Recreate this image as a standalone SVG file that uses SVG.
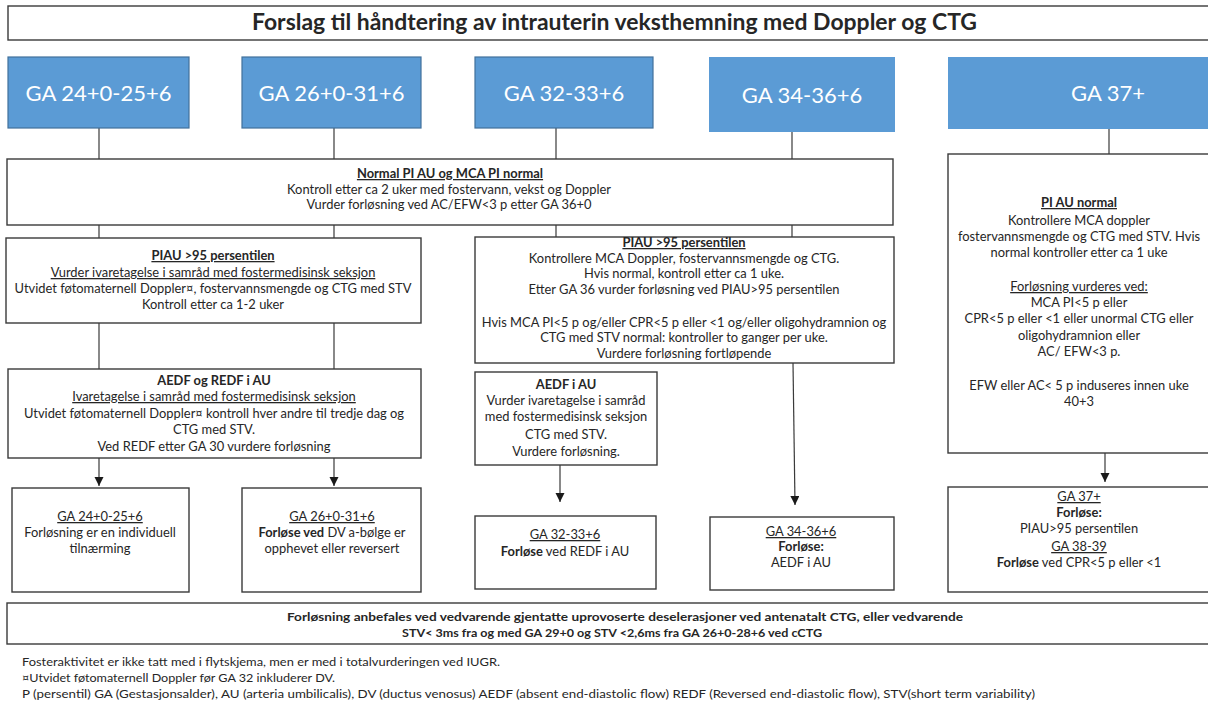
<svg xmlns="http://www.w3.org/2000/svg" width="1208" height="702" viewBox="0 0 1208 702">
<style>
text{font-family:Lato,"Liberation Sans",sans-serif;fill:#262626}
.t{font-size:12.9px;text-anchor:middle}
.b{font-weight:bold}
.u{text-decoration:underline}
.box{fill:#fff;stroke:#3a3a3a;stroke-width:1.4}
.blue{fill:#5b9bd5}
.bs{stroke:#41719c;stroke-width:1.2}
.bt{font-size:22px;fill:#fff;text-anchor:middle}
.ln{stroke:#3a3a3a;stroke-width:1.2;fill:none}
.ft{font-size:11.5px}
</style>
<defs>
<marker id="ah" markerUnits="userSpaceOnUse" markerWidth="10" markerHeight="10" refX="9" refY="4.5" orient="auto">
<path d="M0,0 L9,4.5 L0,9 Z" fill="#1a1a1a"/>
</marker>
</defs>
<rect width="1208" height="702" fill="#fff"/>

<g id="title">
<rect class="box" x="8" y="6" width="1210" height="34"/>
<text x="252" y="30" class="b" font-size="22" textLength="725" lengthAdjust="spacingAndGlyphs">Forslag til håndtering av intrauterin veksthemning med Doppler og CTG</text>
</g>

<g id="connectors">
<line class="ln" x1="99" y1="128" x2="99" y2="160"/>
<line class="ln" x1="334" y1="128" x2="334" y2="160"/>
<line class="ln" x1="556" y1="128" x2="556" y2="160"/>
<line class="ln" x1="792" y1="132" x2="792" y2="160"/>
<line class="ln" x1="1109" y1="129" x2="1109" y2="154"/>
<line class="ln" x1="99" y1="225" x2="99" y2="238"/>
<line class="ln" x1="334" y1="225" x2="334" y2="238"/>
<line class="ln" x1="556" y1="225" x2="556" y2="237"/>
<line class="ln" x1="792" y1="225" x2="792" y2="237"/>
<line class="ln" x1="99" y1="323" x2="99" y2="369"/>
<line class="ln" x1="334" y1="323" x2="334" y2="369"/>
<line class="ln" x1="99" y1="458" x2="99" y2="486" marker-end="url(#ah)"/>
<line class="ln" x1="334" y1="458" x2="334" y2="486" marker-end="url(#ah)"/>
<line class="ln" x1="560" y1="465" x2="560" y2="502" marker-end="url(#ah)"/>
<line class="ln" x1="793" y1="363" x2="795" y2="505" marker-end="url(#ah)"/>
<line class="ln" x1="1105" y1="453" x2="1105" y2="482" marker-end="url(#ah)"/>
</g>

<g id="ga1"><rect class="blue bs" x="8" y="57" width="181" height="71"/><text class="bt" x="98.5" y="101">GA 24+0-25+6</text></g>
<g id="ga2"><rect class="blue bs" x="242" y="57" width="179" height="71"/><text class="bt" x="331.5" y="101">GA 26+0-31+6</text></g>
<g id="ga3"><rect class="blue bs" x="475" y="57" width="178" height="71"/><text class="bt" x="564" y="101">GA 32-33+6</text></g>
<g id="ga4"><rect class="blue" x="709" y="57" width="186" height="75"/><text class="bt" x="802" y="103">GA 34-36+6</text></g>
<g id="ga5"><rect class="blue" x="948" y="57" width="262" height="72"/><text class="bt" x="1108" y="101">GA 37+</text></g>

<g id="normal">
<rect class="box" x="7" y="159" width="886" height="66"/>
<text class="t" x="450" y="178"><tspan class="b u">Normal PI AU  og MCA PI normal</tspan></text>
<text class="t" x="449" y="194">Kontroll etter ca  2 uker med  fostervann, vekst og Doppler</text>
<text class="t" x="449" y="209">Vurder forløsning ved AC/EFW&lt;3  p etter  GA 36+0</text>
</g>

<g id="piau-left">
<rect class="box" x="6" y="238" width="415" height="85"/>
<text class="t" x="213" y="260"><tspan class="b u">PIAU &gt;95 persentilen</tspan></text>
<text class="t u" x="213" y="277">Vurder ivaretagelse i samråd med fostermedisinsk seksjon</text>
<text class="t" x="213" y="293">Utvidet føtomaternell Doppler¤, fostervannsmengde og CTG med STV</text>
<text class="t" x="213" y="309">Kontroll etter ca  1-2 uker</text>
</g>

<g id="aedf-redf">
<rect class="box" x="8" y="369" width="413" height="89"/>
<text class="t b" x="214" y="385">AEDF og  REDF  i AU</text>
<text class="t u" x="214" y="401">Ivaretagelse i samråd med fostermedisinsk seksjon</text>
<text class="t" x="214" y="418">Utvidet føtomaternell Doppler¤ kontroll hver andre til tredje dag og</text>
<text class="t" x="214" y="434">CTG med STV.</text>
<text class="t" x="214" y="451">Ved REDF etter  GA 30 vurdere forløsning</text>
</g>

<g id="res-24">
<rect class="box" x="12" y="488" width="177" height="104"/>
<text class="t u" x="100" y="521">GA  24+0-25+6</text>
<text class="t" x="100" y="537">Forløsning er en individuell</text>
<text class="t" x="100" y="553">tilnærming</text>
</g>

<g id="res-26">
<rect class="box" x="242" y="488" width="179" height="104"/>
<text class="t u" x="332" y="521">GA 26+0-31+6</text>
<text class="t" x="332" y="537"><tspan class="b">Forløse ved</tspan>  DV a-bølge er</text>
<text class="t" x="332" y="553">opphevet  eller reversert</text>
</g>

<g id="piau-mid">
<rect class="box" x="475" y="237" width="419" height="126"/>
<text class="t" x="684" y="247"><tspan class="b u">PIAU &gt;95  persentilen</tspan></text>
<text class="t" x="684" y="263">Kontrollere MCA Doppler, fostervannsmengde og CTG.</text>
<text class="t" x="684" y="278">Hvis normal, kontroll etter   ca 1 uke.</text>
<text class="t" x="684" y="294">Etter  GA 36 vurder forløsning ved PIAU&gt;95  persentilen</text>
<text class="t" x="684" y="327">Hvis MCA PI&lt;5 p og/eller CPR&lt;5 p eller &lt;1 og/eller oligohydramnion og</text>
<text class="t" x="684" y="342">CTG  med STV normal: kontroller to ganger per uke.</text>
<text class="t" x="684" y="358">Vurdere  forløsning fortløpende</text>
</g>

<g id="aedf-mid">
<rect class="box" x="475" y="372" width="182" height="93"/>
<text class="t b" x="566" y="389">AEDF  i AU</text>
<text class="t" x="566" y="405">Vurder ivaretagelse i samråd</text>
<text class="t" x="566" y="421">med fostermedisinsk seksjon</text>
<text class="t" x="566" y="439">CTG med STV.</text>
<text class="t" x="566" y="456">Vurdere forløsning.</text>
</g>

<g id="res-32">
<rect class="box" x="475" y="516" width="181" height="73"/>
<text class="t u" x="565" y="539">GA 32-33+6</text>
<text class="t" x="565" y="556"><tspan class="b">Forløse</tspan> ved  REDF i AU</text>
</g>

<g id="res-34">
<rect class="box" x="710" y="517" width="184" height="73"/>
<text class="t u" x="801" y="536">GA 34-36+6</text>
<text class="t b" x="801" y="551">Forløse:</text>
<text class="t" x="801" y="567">AEDF i AU</text>
</g>

<g id="piau-normal">
<rect class="box" x="948" y="154" width="270" height="299"/>
<text class="t" x="1079" y="207"><tspan class="b u"> PI AU normal</tspan></text>
<text class="t" x="1079" y="225">Kontrollere MCA doppler</text>
<text class="t" x="1079" y="241">fostervannsmengde og CTG med STV.  Hvis</text>
<text class="t" x="1079" y="257">normal kontroller etter ca 1 uke</text>
<text class="t u" x="1079" y="291">Forløsning vurderes ved:</text>
<text class="t" x="1079" y="307">MCA PI&lt;5 p eller</text>
<text class="t" x="1079" y="323">CPR&lt;5 p eller &lt;1  eller unormal CTG eller</text>
<text class="t" x="1079" y="340">oligohydramnion  eller</text>
<text class="t" x="1079" y="356">AC/ EFW&lt;3  p.</text>
<text class="t" x="1079" y="390">EFW eller AC&lt;  5 p induseres innen uke</text>
<text class="t" x="1079" y="406">40+3</text>
</g>

<g id="res-37">
<rect class="box" x="948" y="487" width="270" height="105"/>
<text class="t u" x="1079" y="501">GA 37+</text>
<text class="t b" x="1079" y="517">Forløse:</text>
<text class="t" x="1079" y="533">PIAU&gt;95  persentilen</text>
<text class="t u" x="1079" y="551">GA 38-39</text>
<text class="t" x="1079" y="567"><tspan class="b">Forløse</tspan> ved CPR&lt;5 p eller &lt;1</text>
</g>

<g id="bottom">
<rect class="box" x="7" y="603" width="1211" height="41"/>
<text x="287" y="621" class="b" font-size="12" textLength="676" lengthAdjust="spacingAndGlyphs">Forløsning anbefales ved vedvarende gjentatte uprovoserte deselerasjoner ved antenatalt CTG, eller  vedvarende</text>
<text x="402" y="637" class="b" font-size="12" textLength="420" lengthAdjust="spacingAndGlyphs">STV&lt; 3ms fra og med GA 29+0 og  STV &lt;2,6ms fra GA 26+0-28+6 ved cCTG</text>
</g>

<g id="footnotes">
<text class="ft" x="22" y="666" textLength="478" lengthAdjust="spacingAndGlyphs">Fosteraktivitet er ikke tatt med  i flytskjema, men er med  i totalvurderingen ved IUGR.</text>
<text class="ft" x="22" y="682" textLength="313" lengthAdjust="spacingAndGlyphs">¤Utvidet  føtomaternell Doppler før GA 32 inkluderer DV.</text>
<text class="ft" x="22" y="698" textLength="1013" lengthAdjust="spacingAndGlyphs">P (persentil) GA (Gestasjonsalder), AU (arteria umbilicalis), DV (ductus venosus) AEDF  (absent end-diastolic flow)  REDF (Reversed end-diastolic flow), STV(short term variability)</text>
</g>
</svg>
